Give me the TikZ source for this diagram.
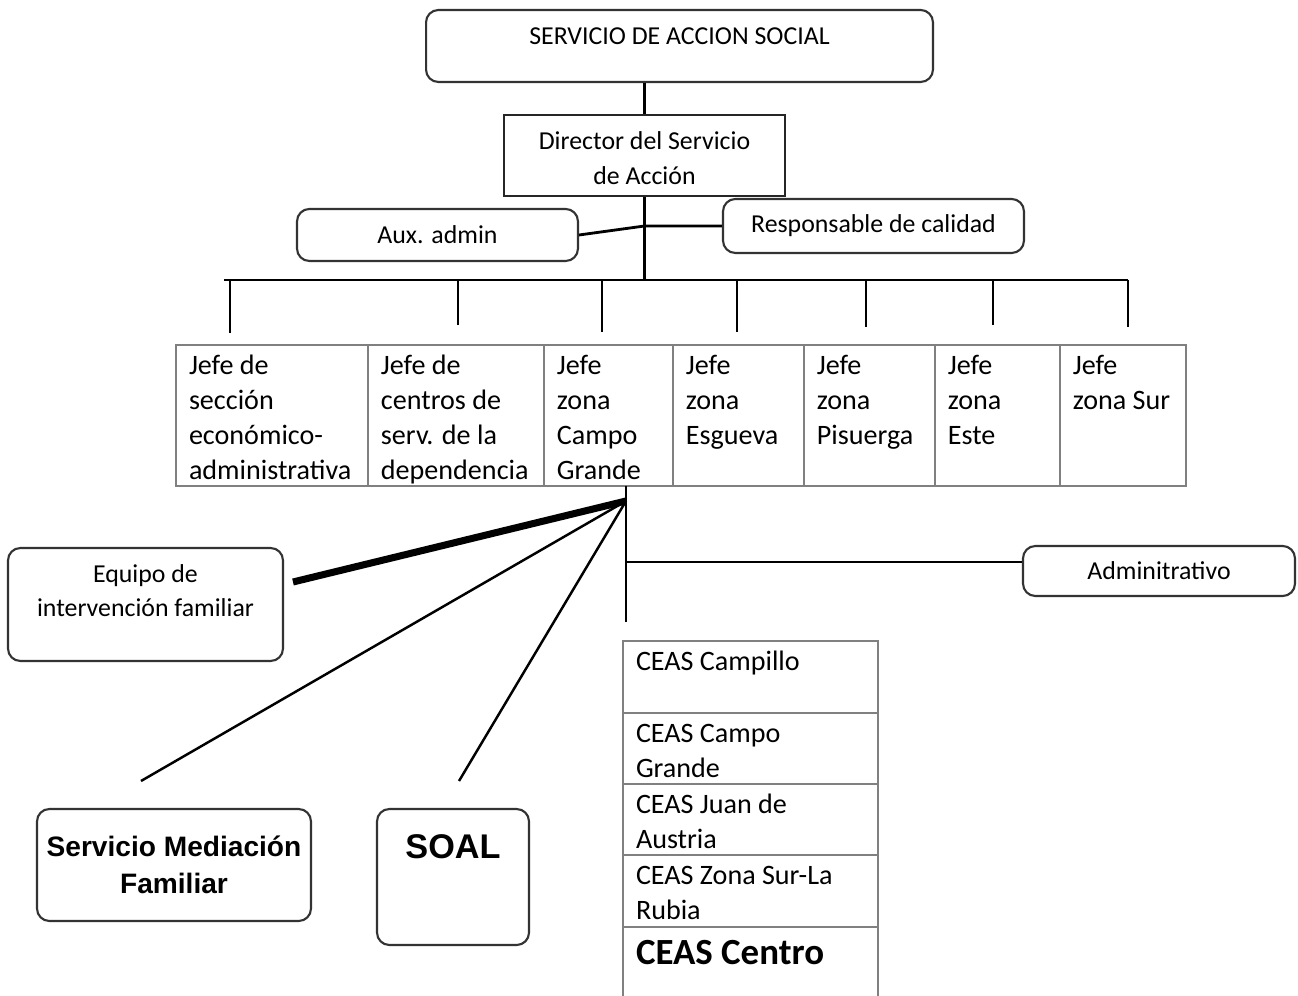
\documentclass[tikz,border=0pt]{standalone}
\usepackage{fontspec}
\setmainfont{Carlito}
\newfontfamily\arialfont{Liberation Sans}
\usepackage{tikz}
\usetikzlibrary{positioning}
\tikzstyle{roundbox} = [rectangle, rounded corners=7pt, line width=1.2pt, draw=black!80, align=center, inner sep=0pt, font=\fontsize{14.7}{19.3}\selectfont]
\tikzstyle{plainbox} = [rectangle, line width=1.4pt, draw=black!85, align=center, inner sep=0pt, font=\fontsize{14.7}{19.9}\selectfont]
\tikzstyle{cell} = [rectangle, draw=black!50, line width=0.8pt, inner sep=0pt, outer sep=0pt, font=\fontsize{16}{19.9}\selectfont]
\tikzstyle{orgline} = [line width=1.6pt]
\tikzstyle{fanline} = [line width=1.4pt]
\newcommand{\celltext}[4][3pt]{\parbox[c][#3][t]{#2}{\raggedright\leftskip=0.26cm\hyphenpenalty=10000\vspace*{#1}\strut#4}}
\newcommand{\toptext}[4]{\parbox[c][#1][t]{#2}{\centering\vspace*{#3}\strut#4}}
\begin{document}
\begin{tikzpicture}[x=0.02cm, y=-0.02cm]
	\useasboundingbox (0,0) rectangle (1298,996);
	\node (AccionSocial) [roundbox, minimum width=10.14cm, minimum height=1.44cm] at (679.5,46) {\toptext{1.44cm}{10cm}{6.1pt}{SERVICIO DE ACCION SOCIAL}};
	\node (Director) [plainbox, minimum width=5.62cm, minimum height=1.62cm] at (644.5,155.5) {\toptext{1.62cm}{5.4cm}{5.5pt}{Director del Servicio\\de Acción}};
	\node (AuxAdmin) [roundbox, minimum width=5.62cm, minimum height=1.04cm] at (437.5,235) {Aux. admin};
	\node (Responsable) [roundbox, minimum width=6.02cm, minimum height=1.08cm] at (873.5,226) {Responsable de calidad};
	% jefes
	\node (JefeSeccion) [cell, anchor=north west] at (176,345) {\celltext{3.84cm}{2.82cm}{Jefe de\\sección\\económico-\\administrativa}};
	\node (JefeCentros) [cell, right = 0pt of JefeSeccion] {\celltext{3.52cm}{2.82cm}{Jefe de\\centros de\\serv. de la\\dependencia}};
	\node (JefeCampoGrande) [cell, right = 0pt of JefeCentros] {\celltext{2.58cm}{2.82cm}{Jefe\\zona\\Campo\\Grande}};
	\node (JefeEsgueva) [cell, right = 0pt of JefeCampoGrande] {\celltext{2.62cm}{2.82cm}{Jefe\\zona\\Esgueva}};
	\node (JefePisuerga) [cell, right = 0pt of JefeEsgueva] {\celltext{2.62cm}{2.82cm}{Jefe\\zona\\Pisuerga}};
	\node (JefeEste) [cell, right = 0pt of JefePisuerga] {\celltext{2.5cm}{2.82cm}{Jefe\\zona\\Este}};
	\node (JefeSur) [cell, right = 0pt of JefeEste] {\celltext{2.52cm}{2.82cm}{Jefe\\zona Sur}};
	% below Campo Grande
	\node (Equipo) [roundbox, minimum width=5.5cm, minimum height=2.26cm] at (145.5,604.5) {\toptext{2.26cm}{5.3cm}{6.4pt}{Equipo de\\intervención familiar}};
	\node (Adminitrativo) [roundbox, minimum width=5.44cm, minimum height=1cm] at (1159,571) {Adminitrativo};
	\node (Mediacion) [roundbox, font=\arialfont\bfseries\fontsize{16}{21}\selectfont, minimum width=5.48cm, minimum height=2.24cm] at (174,865) {Servicio Mediación\\Familiar};
	\node (Soal) [roundbox, font=\arialfont\bfseries\fontsize{19.5}{23.4}\selectfont, minimum width=3.04cm, minimum height=2.72cm] at (453,877) {\toptext{2.72cm}{2.9cm}{11.5pt}{SOAL}};
	\node (CeasCampillo) [cell, anchor=north west] at (623,641) {\celltext{5.1cm}{1.44cm}{CEAS Campillo}};
	\node (CeasCampoGrande) [cell, below = 0pt of CeasCampillo] {\celltext{5.1cm}{1.42cm}{CEAS Campo\\Grande}};
	\node (CeasJuanAustria) [cell, below = 0pt of CeasCampoGrande] {\celltext{5.1cm}{1.42cm}{CEAS Juan de\\Austria}};
	\node (CeasZonaSur) [cell, below = 0pt of CeasJuanAustria] {\celltext{5.1cm}{1.44cm}{CEAS Zona Sur-La\\Rubia}};
	\node (CeasCentro) [cell, font=\fontsize{21}{25}\selectfont\bfseries, below = 0pt of CeasZonaSur] {\celltext[4pt]{5.1cm}{1.5cm}{CEAS Centro}};
	\coordinate (BarLeft) at (224,280);
	\coordinate (BarRight) at (1128,280);
	\coordinate (Fan) at (626,501);
	\coordinate (FanDown) at (626,622);
	\coordinate (EquipoEnd) at (293,582);
	\coordinate (MediacionEnd) at (141,781);
	\coordinate (SoalEnd) at (459,781);
	\draw [orgline] (AccionSocial.south -| Director) -- (Director.north);
	\draw [orgline] (Director.south) -- (Director.south |- BarLeft);
	\draw [orgline] (AuxAdmin.east) -- (Director.south |- Responsable.west) -- (Responsable.west);
	\draw [orgline] (BarLeft) -- (BarRight);
	\foreach \x/\y in {230/333, 458/325, 602/332, 737/332, 866/327, 993/325, 1128/327}
		\draw [orgline] (\x,280) -- (\x,\y);
	\draw [orgline] (Fan |- JefeCampoGrande.south) -- (FanDown);
	\draw [orgline] ([yshift=0.18cm]Adminitrativo.west -| Fan) -- ([yshift=0.18cm]Adminitrativo.west);
	\draw [orgline, line width=4pt] (Fan) -- (EquipoEnd);
	\draw [fanline] (Fan) -- (MediacionEnd);
	\draw [fanline] (Fan) -- (SoalEnd);
\end{tikzpicture}
\end{document}
